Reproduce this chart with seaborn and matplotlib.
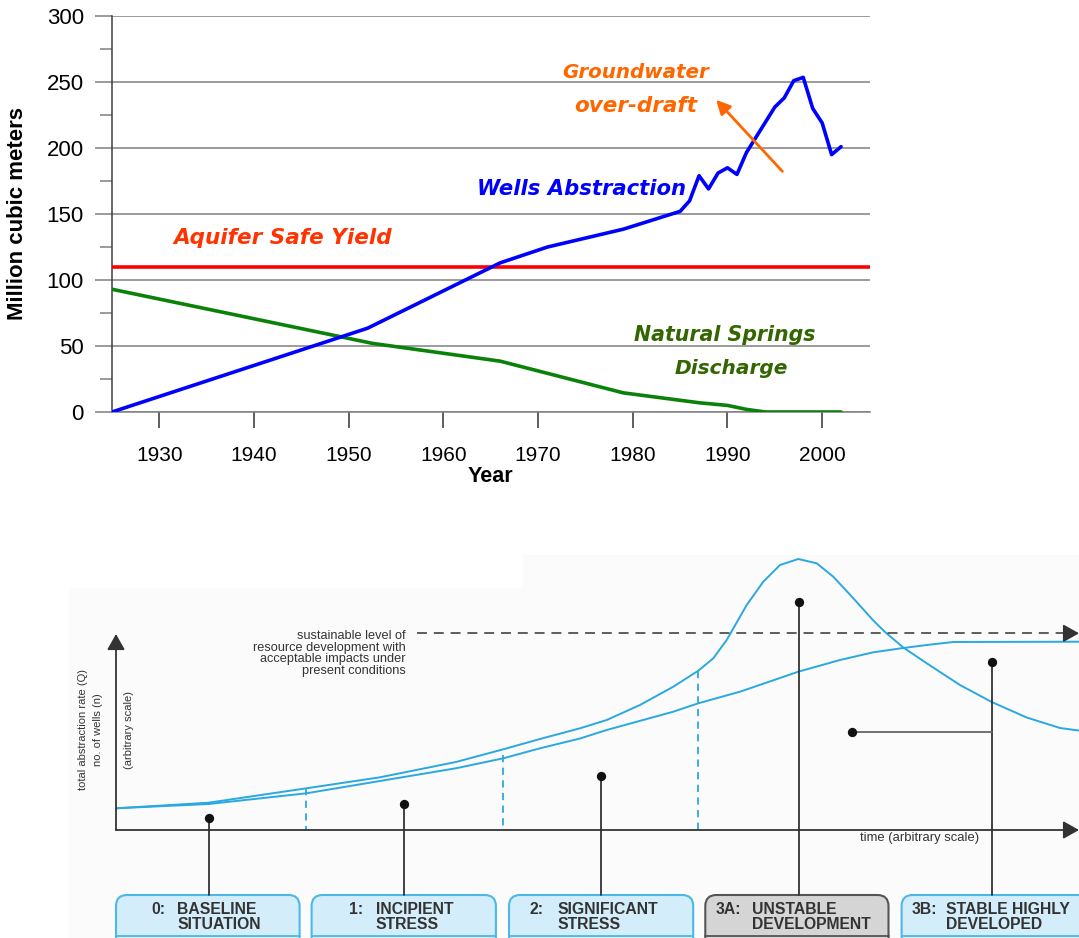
import numpy as np
import pandas as pd
import matplotlib
matplotlib.use("Agg")
import matplotlib.pyplot as plt
import seaborn as sns
from matplotlib.patches import FancyBboxPatch, Polygon
from matplotlib.ticker import MultipleLocator

# ---------------- data: top chart ----------------
wells_years = [1925, 1952, 1966, 1971, 1979, 1985, 1986, 1987, 1988, 1989, 1990,
               1991, 1992, 1995, 1996, 1997, 1998, 1999, 2000, 2001, 2002]
wells_values = [0, 63.5, 113, 125, 138.5, 152, 160, 179, 169, 181, 185,
                180, 196.5, 231, 238, 251, 253.5, 230, 219, 195, 201]
springs_years = [1925, 1952.5, 1966, 1979, 1987, 1990, 1992, 1994, 2002]
springs_values = [93, 52, 38.5, 14.5, 7, 5, 2, 0, 0]
safe_yield = 110
x_ticks = [1930, 1940, 1950, 1960, 1970, 1980, 1990, 2000]

# ---------------- data: bottom conceptual diagram (arbitrary scale) ----------------
peak_curve_t = [116, 208.7, 306.4, 380, 455.9, 503.3, 540, 580, 606.7, 640, 673.3,
                698.3, 713.3, 726.7, 746.7, 763.3, 780, 798.3, 816.7, 833.3, 853.3,
                873.3, 885, 903.3, 923.3, 940, 960, 991.7, 1026.7, 1060, 1080]
peak_curve_q = [808.3, 802.7, 788.3, 777.3, 762, 749.3, 739, 728.3, 720, 705, 686.7,
                670.7, 658.3, 640, 605, 581.7, 565, 559, 563.3, 576.7, 598.3,
                620.5, 632, 647.5, 661, 672, 685, 702, 717.5, 728, 730.7]
stable_curve_t = [116, 208.7, 306.4, 380, 455.9, 503.3, 540, 580, 606.7, 673.3, 698.3,
                  740, 798.3, 840, 873.3, 903.3, 926.7, 953.3, 1080]
stable_curve_q = [808.3, 804, 793.3, 781, 768.3, 758.3, 748.3, 738.5, 730, 711.7, 703.3,
                  691.7, 671.7, 660, 652.3, 648, 645, 642, 641.7]
stage_codes = ["0:", "1:", "2:", "3A:", "3B:"]
stage_line1 = ["BASELINE", "INCIPIENT", "SIGNIFICANT", "UNSTABLE", "STABLE HIGHLY"]
stage_line2 = ["SITUATION", "STRESS", "STRESS", "DEVELOPMENT", "DEVELOPED"]
stage_box_left = [116, 311.6, 509, 705.3, 901.6]
stage_box_right = [299.6, 495.9, 693.2, 888.5, 1090]
stage_code_x = [151.5, 349.5, 530, 715.6, 912]
stage_text_x = [177, 376, 558, 751.8, 946]
stage_marker_t = [208.7, 403.7, 601.4, 798.5, 992]
stage_marker_q = [818.3, 804, 776, 602, 661.7]
boundary_t = [306.4, 502.5, 698.3]
boundary_top = [788.3, 755, 670.7]

# ---------------- figure ----------------
sns.set_theme(style="white")
plt.rcParams['font.family'] = ['Liberation Sans', 'DejaVu Sans']
W, H = 1079, 938
fig = plt.figure(figsize=(W / 100, H / 100), dpi=100)
fig.patch.set_facecolor('white')


def fx(px):
    return px / W


def fy(py):
    return 1 - py / H


# ---------- top chart ----------
axt = fig.add_axes([fx(112), fy(412), fx(869.5) - fx(112), fy(16) - fy(412)])
axt.set_facecolor('white')
axt.set_axisbelow(True)
axt.grid(axis='y', which='major', color='#808080', lw=1.1)
axt.grid(axis='x', visible=False)

axt.axhline(safe_yield, color='#FF0000', lw=2.6, zorder=3)
df_s = pd.DataFrame({'Year': springs_years, 'Value': springs_values})
df_w = pd.DataFrame({'Year': wells_years, 'Value': wells_values})
sns.lineplot(data=df_s, x='Year', y='Value', ax=axt, color='#0A820A', lw=2.6,
             estimator=None, zorder=4)
sns.lineplot(data=df_w, x='Year', y='Value', ax=axt, color='#0000FF', lw=2.6,
             estimator=None, zorder=5)

axt.set_xlim(1925, 2005)
axt.set_ylim(0, 300)
axt.set_xticks(x_ticks)
axt.yaxis.set_major_locator(MultipleLocator(50))
axt.yaxis.set_minor_locator(MultipleLocator(25))
axt.tick_params(axis='y', which='major', left=True, length=12.2, width=1.1,
                color='#808080', labelsize=16, pad=8, labelcolor='black')
axt.tick_params(axis='y', which='minor', left=True, length=8.6, width=1.1,
                color='#808080')
axt.tick_params(axis='x', which='major', bottom=True, direction='out', length=11.5,
                width=1.1, color='#333333', labelsize=15, pad=13, labelcolor='black')
for s in ['top', 'right']:
    axt.spines[s].set_visible(False)
axt.spines['left'].set_color('#404040')
axt.spines['left'].set_linewidth(1.1)
axt.spines['bottom'].set_color('#808080')
axt.spines['bottom'].set_linewidth(1.1)

axt.set_xlabel('Year', fontsize=15.5, fontweight='bold', color='black')
axt.xaxis.set_label_coords(0.5, -(466 - 412) / 396)
axt.set_ylabel('Million cubic meters', fontsize=16, fontweight='bold', color='black')
axt.yaxis.set_label_coords(-(112 - 28.5) / 757.5, 0.5)

anno_font = dict(family=['DejaVu Sans'], fontweight='bold', fontstyle='italic',
                 ha='center', va='center')
axt.text(1943.0, 131.6, 'Aquifer Safe Yield', color='#FF3300', fontsize=15.5, **anno_font)
axt.text(1974.6, 168.7, 'Wells Abstraction', color='#0000FF', fontsize=15.2, **anno_font)
axt.text(1980.3, 257.2, 'Groundwater', color='#FF6600', fontsize=14.3, **anno_font)
axt.text(1980.3, 231.5, 'over-draft', color='#FF6600', fontsize=15.5, **anno_font)
axt.text(1989.7, 58.2, 'Natural Springs', color='#336600', fontsize=14.8, **anno_font)
axt.text(1990.4, 33.3, 'Discharge', color='#336600', fontsize=14.5, **anno_font)
axt.annotate('', xy=(1988.8, 236.5), xytext=(1995.8, 182.3),
             arrowprops=dict(arrowstyle='-|>,head_length=0.7,head_width=0.35',
                             color='#FF6600', lw=2, shrinkA=0, shrinkB=0), zorder=6)

# ---------- bottom diagram ----------
axb = fig.add_axes([0, 0, 1, 398 / H])
axb.add_patch(Polygon([(69, 938), (69, 588), (523, 588), (523, 555), (1079, 555),
                       (1079, 938)], closed=True, fc='#fbfbfb', ec='none', zorder=0))

curve_col = '#2AA8E0'
df_peak = pd.DataFrame({'t': peak_curve_t, 'q': peak_curve_q})
df_stab = pd.DataFrame({'t': stable_curve_t, 'q': stable_curve_q})
sns.lineplot(data=df_peak, x='t', y='q', ax=axb, color=curve_col, lw=1.4, sort=False,
             estimator=None, zorder=3)
sns.lineplot(data=df_stab, x='t', y='q', ax=axb, color=curve_col, lw=1.4, sort=False,
             estimator=None, zorder=3)
axb.set_xlim(0, W)
axb.set_ylim(H, 540)
axb.axis('off')

for bt, top in zip(boundary_t, boundary_top):
    axb.plot([bt, bt], [top, 830], color=curve_col, lw=1.3, ls=(0, (4, 3)), zorder=2)

arrow_kw = dict(arrowstyle='-|>,head_length=0.8,head_width=0.45', color='#333333',
                lw=1.3, shrinkA=0, shrinkB=0)
axb.annotate('', xy=(116, 634), xytext=(116, 830), arrowprops=arrow_kw, zorder=4,
             annotation_clip=False)
axb.annotate('', xy=(1079, 830), xytext=(116, 830), arrowprops=arrow_kw, zorder=4,
             annotation_clip=False)
axb.plot([417, 1066], [633.3, 633.3], color='#333333', lw=1.1, ls=(0, (6.5, 4.5)),
         zorder=4)
axb.annotate('', xy=(1079, 633.3), xytext=(1064, 633.3), arrowprops=arrow_kw, zorder=4,
             annotation_clip=False)

axb.text(406, 653.5, 'sustainable level of\nresource development with\n'
         'acceptable impacts under\npresent conditions', ha='right', va='center',
         linespacing=0.98, color='#333333', fontsize=9.2)
axb.text(83, 729, 'total abstraction rate (Q)', rotation=90, ha='center', va='center',
         color='#333333', fontsize=8)
axb.text(98, 730, 'no. of wells (n)', rotation=90, ha='center', va='center',
         color='#333333', fontsize=8)
axb.text(129, 730, '(arbitrary scale)', rotation=90, ha='center', va='center',
         color='#333333', fontsize=8)
axb.text(920, 838, 'time (arbitrary scale)', ha='center', va='center',
         color='#333333', fontsize=9.4)

# stage markers (lollipops)
for mt, mq in zip(stage_marker_t, stage_marker_q):
    axb.plot([mt, mt], [mq, 895], color='#333333', lw=1.3, zorder=4)
axb.plot([851.6, stage_marker_t[4]], [731.7, 731.7], color='#666666', lw=1.3, zorder=4)
axb.scatter(stage_marker_t + [851.6], stage_marker_q + [731.7], s=45, color='#111111',
            zorder=5, linewidths=0)

# stage boxes
for i in range(5):
    x0, x1 = stage_box_left[i], stage_box_right[i]
    grey = stage_codes[i] == '3A:'
    fc = '#D5D5D5' if grey else '#D4EDFA'
    ec = '#555555' if grey else '#4BB8E8'
    axb.add_patch(FancyBboxPatch((x0, 895), x1 - x0, 80,
                                 boxstyle='round,pad=0,rounding_size=11',
                                 fc=fc, ec=ec, lw=1.5, zorder=3))
    axb.plot([x0, x1], [935.5, 935.5], color=ec, lw=1.3, zorder=4)
    axb.text(stage_code_x[i], 909, stage_codes[i], ha='left', va='center',
             fontsize=11.3, fontweight='bold', color='#333333', zorder=5)
    axb.text(stage_text_x[i], 909, stage_line1[i], ha='left', va='center',
             fontsize=11.3, fontweight='bold', color='#333333', zorder=5)
    axb.text(stage_text_x[i], 924, stage_line2[i], ha='left', va='center',
             fontsize=11.3, fontweight='bold', color='#333333', zorder=5)

fig.savefig('out.png', dpi=100, facecolor='white')
